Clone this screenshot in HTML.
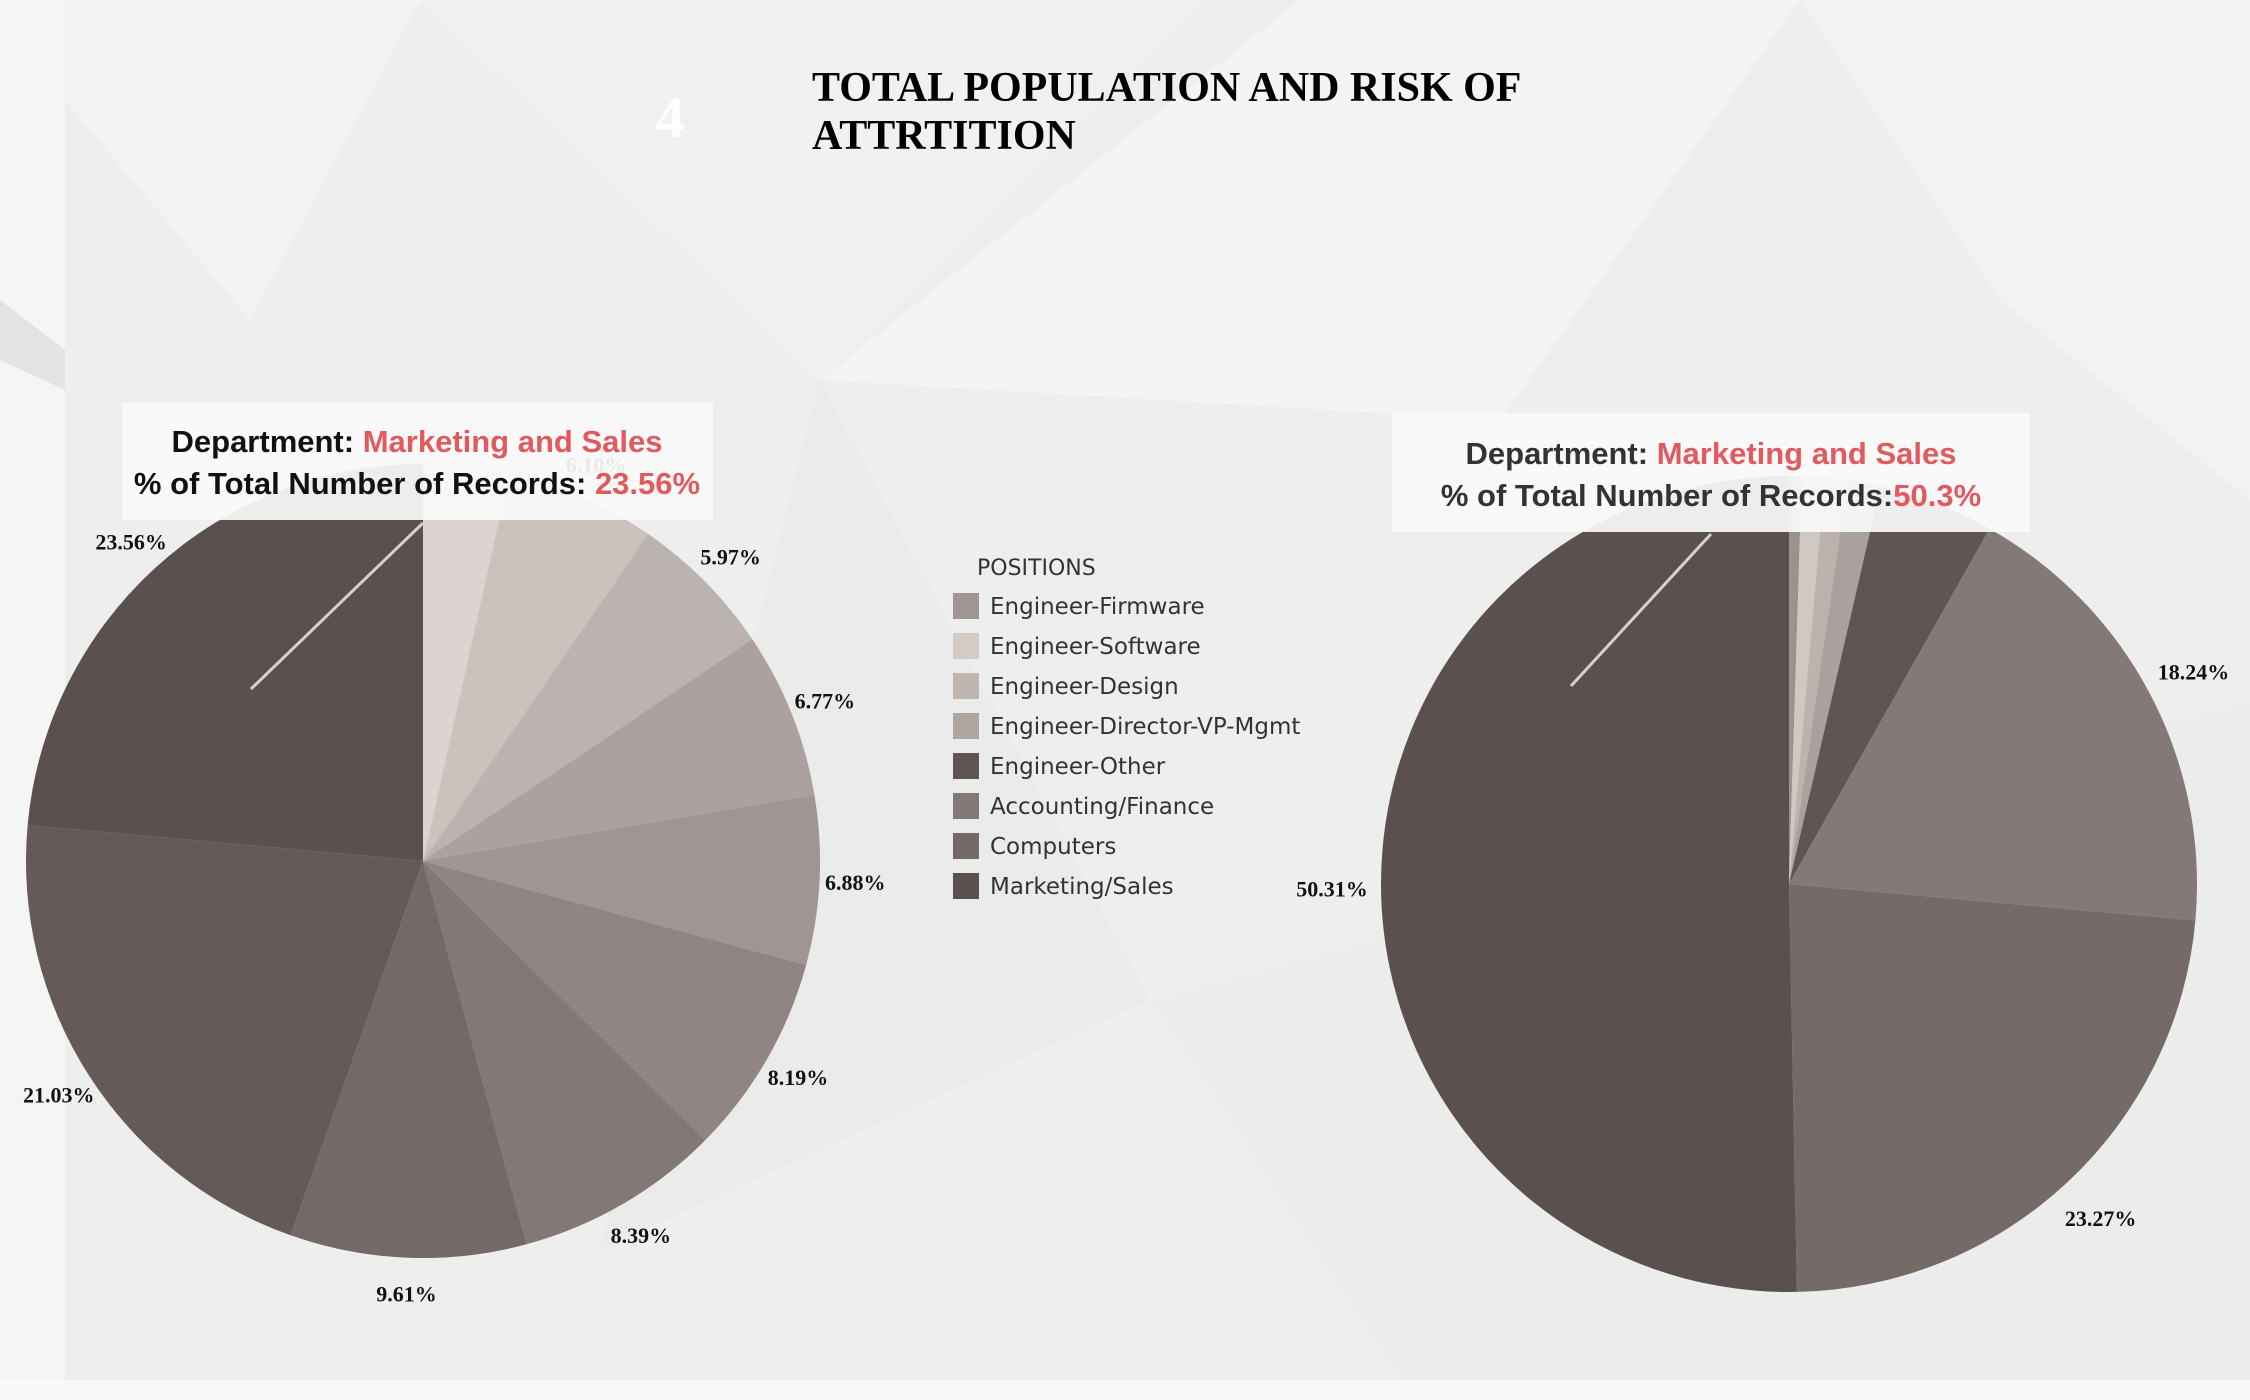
<!DOCTYPE html>
<html><head><meta charset="utf-8"><style>
html,body{margin:0;padding:0;width:2250px;height:1400px;overflow:hidden;background:#efefef;font-family:"Liberation Sans",sans-serif}
svg{position:absolute;left:0;top:0}
</style></head><body>
<svg id="chart" width="2250" height="1400" viewBox="0 0 2250 1400">
<g>
<rect x="0" y="0" width="2250" height="1400" fill="#eeeeee"/>
<polygon points="65,0 420,0 250,320 65,100" fill="#f3f3f3"/>
<polygon points="420,0 1200,0 820,380" fill="#f1f1f1"/>
<polygon points="820,380 1300,0 1800,0 1500,420" fill="#f4f4f4"/>
<polygon points="1800,0 2250,0 2250,500 2000,300" fill="#f2f2f2"/>
<polygon points="0,0 65,0 65,1400 0,1400" fill="#f5f5f5"/>
<polygon points="0,300 65,350 65,390 0,360" fill="#e3e3e6"/>
<polygon points="820,380 1150,1000 600,1250" fill="#ebebeb"/>
<polygon points="1150,1000 2250,700 2250,1380 1400,1380" fill="#ececec"/>
<rect x="0" y="1380" width="2250" height="20" fill="#f8f8f8"/>
</g>
<text x="670" y="137" font-family="Liberation Serif,serif" font-weight="bold" font-size="58" fill="#ffffff" text-anchor="middle">4</text>
<text font-family="Liberation Serif,serif" font-weight="bold" font-size="42" fill="#000"><tspan x="812" y="101">TOTAL POPULATION AND RISK OF</tspan><tspan x="812" y="149">ATTRTITION</tspan></text>
<g id="pieL"></g>
<g id="pieR"></g>
<g id="legend"></g>
<g>
<line x1="423" y1="523" x2="251" y2="689" stroke="#d8d0cd" stroke-width="3"/>
<rect x="122" y="402" width="591" height="118" fill="#fafafa" fill-opacity="0.93"/>
<text x="417" y="452" text-anchor="middle" font-weight="bold" font-size="31" fill="#111"><tspan>Department: </tspan><tspan fill="#e05a5e">Marketing and Sales</tspan></text>
<text x="417" y="494" text-anchor="middle" font-weight="bold" font-size="31" fill="#111"><tspan>% of Total Number of Records: </tspan><tspan fill="#e05a5e">23.56%</tspan></text>
</g>
<g>
<line x1="1711" y1="534" x2="1571" y2="686" stroke="#d8d0cd" stroke-width="3"/>
<rect x="1392" y="413" width="638" height="119" fill="#fafafa" fill-opacity="0.93"/>
<text x="1711" y="464" text-anchor="middle" font-weight="bold" font-size="31" fill="#333"><tspan>Department: </tspan><tspan fill="#e05a5e">Marketing and Sales</tspan></text>
<text x="1711" y="506" text-anchor="middle" font-weight="bold" font-size="31" fill="#333"><tspan>% of Total Number of Records:</tspan><tspan fill="#e05a5e">50.3%</tspan></text>
</g>
</svg>
<script>
const leftValues=[3.5,6.1,5.97,6.77,6.88,8.19,8.39,9.61,21.03,23.56];
const leftColors=["#ddd3d0","#cbc2bd","#bbb3af","#aba29f","#9f9592","#8f8683","#827976","#736966","#645a57","#5a504d"];
const rightValues=[0.5,0.9,0.9,1.3,4.58,18.24,23.27,50.31];
const rightColors=["#9b918e","#d0c8c3","#bcb3ae","#aaa19e","#5f5552","#837a77","#746a67","#5a504d"];
const legendLabels=["Engineer-Firmware","Engineer-Software","Engineer-Design","Engineer-Director-VP-Mgmt","Engineer-Other","Accounting/Finance","Computers","Marketing/Sales"];
const legendColors=["#9f9592","#d3cbc6","#bfb6b1","#afa6a2","#5e5451","#827976","#736966","#5a504d"];
const NS="http://www.w3.org/2000/svg";
function pt(cx,cy,r,frac){const a=frac*2*Math.PI;return [cx+r*Math.sin(a),cy-r*Math.cos(a)];}
function drawPie(g,vals,cols,cx,cy,r,minLabel,lr){
  const total=vals.reduce((a,b)=>a+b,0);let acc=0;
  vals.forEach((v,i)=>{
    const f0=acc/total,f1=(acc+v)/total;acc+=v;
    const p0=pt(cx,cy,r,f0),p1=pt(cx,cy,r,f1);const large=(f1-f0)>0.5?1:0;
    const p=document.createElementNS(NS,"path");
    p.setAttribute("d",`M${cx},${cy}L${p0[0]},${p0[1]}A${r},${r} 0 ${large} 1 ${p1[0]},${p1[1]}Z`);
    p.setAttribute("fill",cols[i]);
    
    
    g.appendChild(p);
    if(v>=minLabel){
      const lp=pt(cx,cy,r*lr,(f0+f1)/2);
      const t=document.createElementNS(NS,"text");
      t.setAttribute("x",lp[0]);t.setAttribute("y",lp[1]+8);
      t.setAttribute("text-anchor","middle");t.setAttribute("font-family","Liberation Serif,serif");
      t.setAttribute("font-weight","bold");t.setAttribute("font-size","22");t.setAttribute("fill","#111");
      t.textContent=v.toFixed(2)+"%";
      
      
      g.appendChild(t);
    }
  });
}
drawPie(document.getElementById("pieL"),leftValues,leftColors,423,861,397,5.5,1.09);
drawPie(document.getElementById("pieR"),rightValues,rightColors,1789,884,408,10,1.12);
const lg=document.getElementById("legend");
const h=document.createElementNS(NS,"text");
h.setAttribute("x",977);h.setAttribute("y",575);h.setAttribute("font-size","22");h.setAttribute("fill","#333");
h.setAttribute("font-family","DejaVu Sans,sans-serif");h.textContent="POSITIONS";


lg.appendChild(h);
legendLabels.forEach((l,i)=>{
  const y=606+i*40;
  const r=document.createElementNS(NS,"rect");
  r.setAttribute("x",953);r.setAttribute("y",y-13);r.setAttribute("width",26);r.setAttribute("height",26);r.setAttribute("fill",legendColors[i]);
  
  
  lg.appendChild(r);
  const t=document.createElementNS(NS,"text");
  t.setAttribute("x",990);t.setAttribute("y",y+8);t.setAttribute("font-size","23");t.setAttribute("fill","#333");
  t.setAttribute("font-family","DejaVu Sans,sans-serif");t.textContent=l;
  
  
  lg.appendChild(t);
});
</script>
</body></html>
